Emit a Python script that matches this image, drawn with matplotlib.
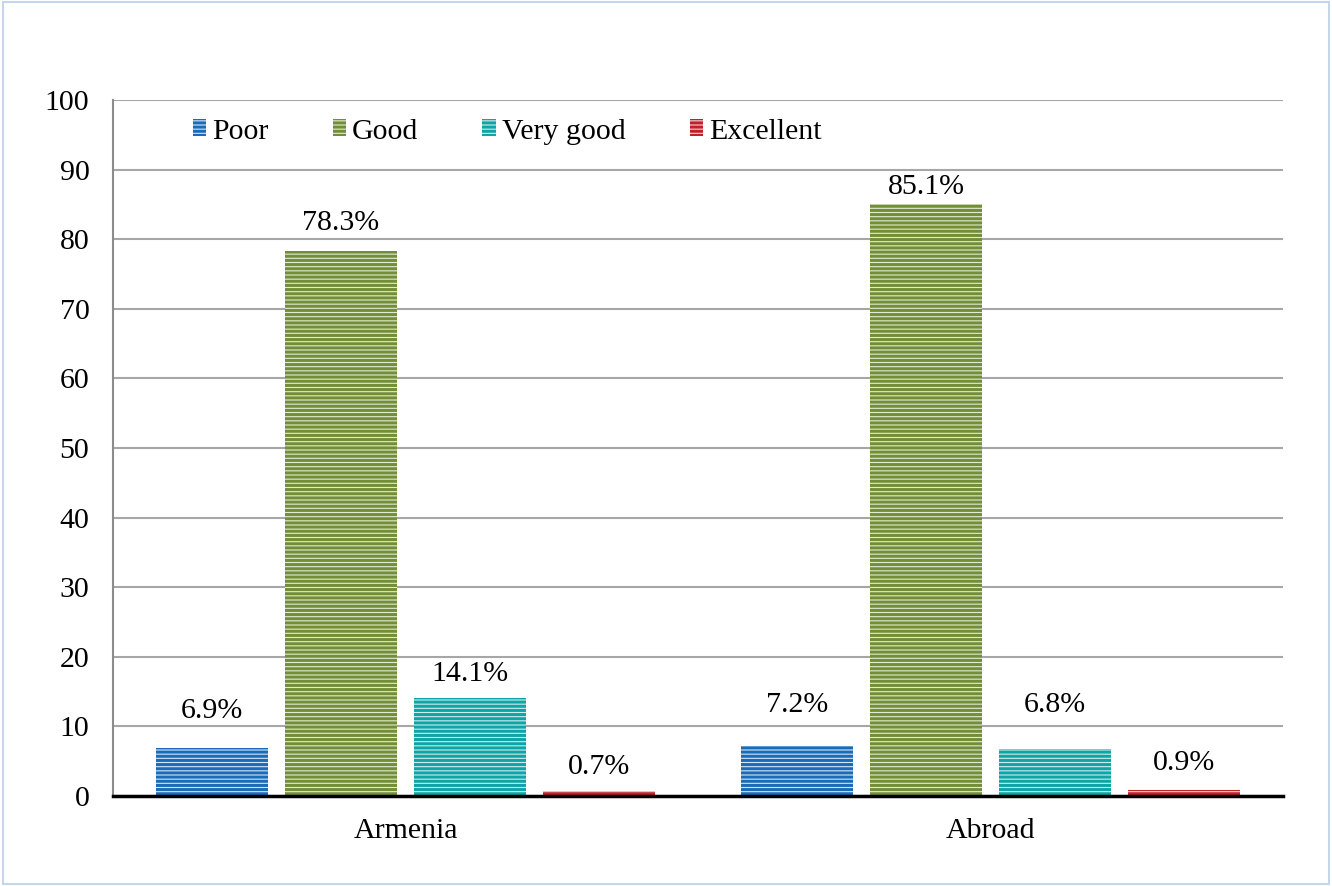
import matplotlib
matplotlib.use("Agg")
import matplotlib.pyplot as plt
import numpy as np
from matplotlib.patches import Rectangle

plt.rcParams["font.family"] = ["Liberation Serif", "DejaVu Serif"]
plt.rcParams["hatch.linewidth"] = 2.2

# data
groups = ["Armenia", "Abroad"]
series = ["Poor", "Good", "Very good", "Excellent"]
poor = [6.9, 7.2]
good = [78.3, 85.1]
very_good = [14.1, 6.8]
excellent = [0.7, 0.9]
values = [poor, good, very_good, excellent]

# styles
hatch_colors = ["#1a6cb8", "#728f38", "#0fa4a6", "#c0202a"]
face_colors = ["#d4e5f5", "#e3ebd2", "#cdeeee", "#f5d3d5"]
# manual label offsets (points above bar top), as in the original
label_offsets = [[17, 20], [11, 3], [8, 22], [8, 10]]

fig = plt.figure(figsize=(13.32, 8.86), dpi=100)
ax = fig.add_axes([113 / 1332, 1 - 796 / 886, 1170 / 1332, 696 / 886])

x = np.arange(len(groups))
width = 0.19
pitch = 0.2205
for i, (name, vals) in enumerate(zip(series, values)):
    pos = x + (i - 1.5) * pitch
    ax.bar(pos, vals, width, facecolor=face_colors[i], edgecolor=hatch_colors[i],
           hatch="----", linewidth=0, label=name, zorder=3)
    for p, v, off in zip(pos, vals, label_offsets[i]):
        ax.annotate(f"{v:.1f}%", (p, v), xytext=(0, off), textcoords="offset points",
                    ha="center", va="bottom", fontsize=21.5, zorder=4)

ax.set_xlim(-0.5, 1.5)
ax.set_ylim(0, 100)
ax.set_yticks(range(0, 101, 10))
ax.set_xticks(x)
ax.set_xticklabels(groups)
ax.tick_params(axis="both", length=0, labelsize=21.5)
ax.tick_params(axis="y", pad=17)
ax.tick_params(axis="x", pad=16)
ax.yaxis.grid(True, color="#a6a6a6", linewidth=1.5, zorder=0)
ax.set_axisbelow(True)
for s in ["top", "right"]:
    ax.spines[s].set_visible(False)
ax.spines["left"].set_color("#8c8c8c")
ax.spines["left"].set_linewidth(1.5)
ax.spines["bottom"].set_color("black")
ax.spines["bottom"].set_linewidth(2.5)
ax.spines["bottom"].set_zorder(5)

ax.legend(loc="upper left", bbox_to_anchor=(0.045, 1.012), ncol=4, frameon=False,
          fontsize=21.5, handlelength=0.45, handleheight=0.5, handletextpad=0.2,
          columnspacing=2.15)

fig.patches.append(Rectangle((0.002, 0.002), 0.996, 0.996, transform=fig.transFigure,
                             fill=False, edgecolor="#c5d5ea", linewidth=1.5))

fig.savefig("out.png", dpi=100)
plt.close(fig)
